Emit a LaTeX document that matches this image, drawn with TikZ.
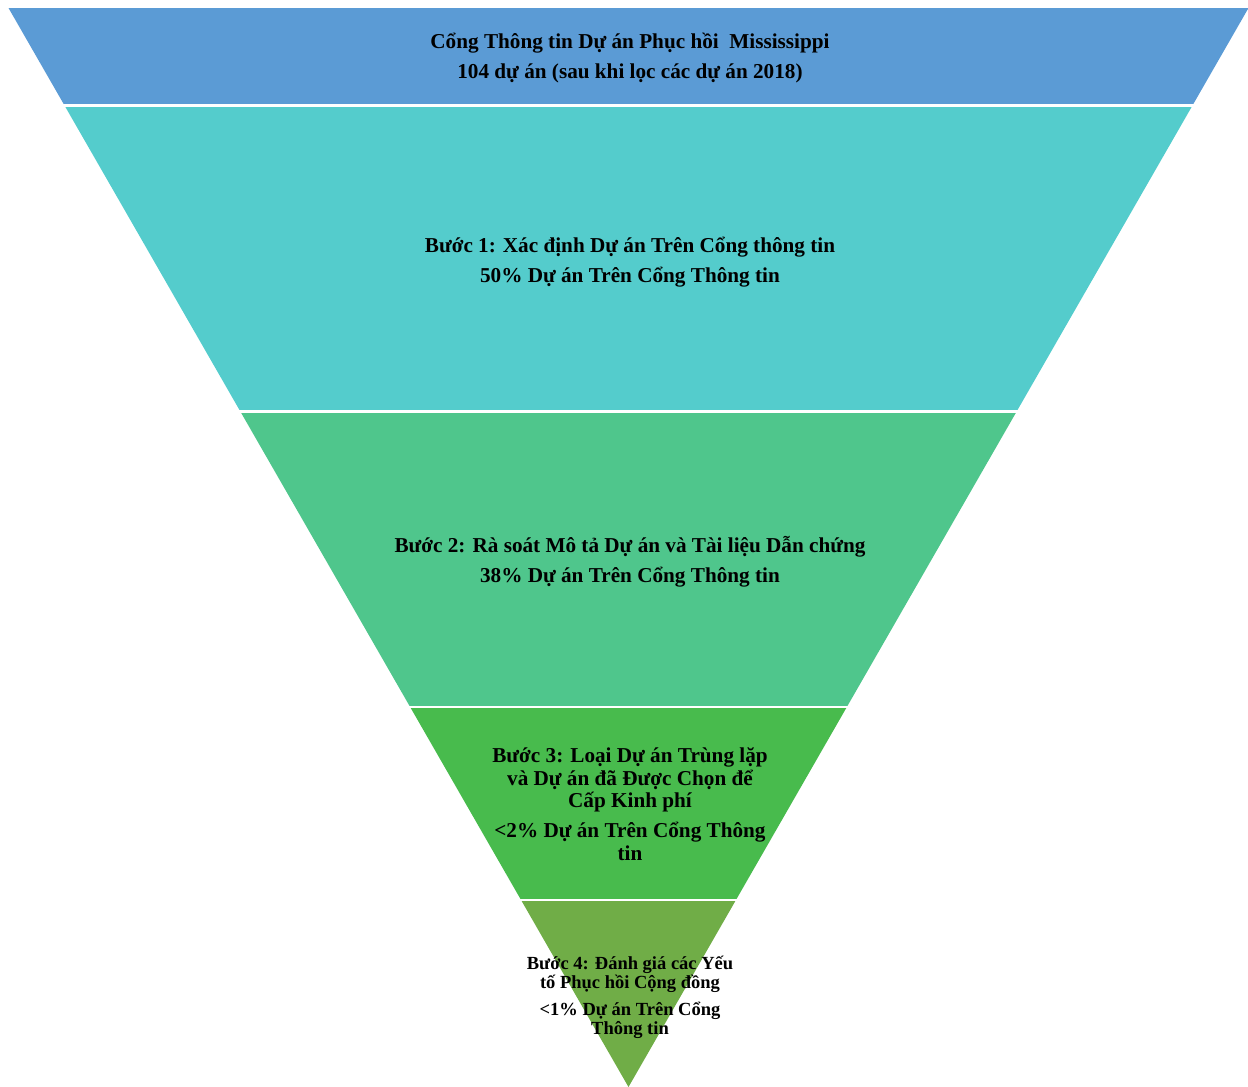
\documentclass[tikz,border=0pt]{standalone}
\usepackage{fontspec}
\setmainfont{Liberation Serif}
\definecolor{cA}{HTML}{5B9BD5}
\definecolor{cB}{HTML}{54CCCC}
\definecolor{cC}{HTML}{4FC68C}
\definecolor{cD}{HTML}{48BB4D}
\definecolor{cE}{HTML}{70AD47}
\begin{document}
\begin{tikzpicture}[x=1pt,y=-1pt,
  lbl/.style={align=center,font=\bfseries\fontsize{21.2}{22.5}\selectfont,text=black,inner sep=0pt},
  lblsmall/.style={align=center,font=\bfseries\fontsize{18.5}{19}\selectfont,text=black,inner sep=0pt},
  gap/.style={white,line width=2.5pt}]
\useasboundingbox (0,0) rectangle (1248,1087);
\def\cx{628.5}
\def\sl{0.574606}
\newcommand{\band}[3]{%
  \fill[#1] ({\cx-\sl*(1087-#2)},#2) -- ({\cx+\sl*(1087-#2)},#2)
    -- ({\cx+\sl*(1087-#3)},#3) -- ({\cx-\sl*(1087-#3)},#3) -- cycle;}
\band{cA}{8}{105.5}
\band{cB}{105.5}{411.5}
\band{cC}{411.5}{707}
\band{cD}{707}{900}
\band{cE}{900}{1087}
\foreach \yy in {105.5,411.5,707,900}
  \draw[gap] ({\cx-\sl*(1087-\yy)-5},\yy) -- ({\cx+\sl*(1087-\yy)+5},\yy);
\node[lbl] (t0) at (630,58) {Cổng Thông tin Dự án Phục hồi\ \ Mississippi\\[7.5pt]104 dự án (sau khi lọc các dự án 2018)};
\node[lbl] (t1) at (630,262) {Bước 1: Xác định Dự án Trên Cổng thông tin\\[7.5pt]50\% Dự án Trên Cổng Thông tin};
\node[lbl] (t2) at (630,561.5) {Bước 2: Rà soát Mô tả Dự án và Tài liệu Dẫn chứng\\[7.5pt]38\% Dự án Trên Cổng Thông tin};
\node[lbl] (t3) at (630,804) {Bước 3: Loại Dự án Trùng lặp\\và Dự án đã Được Chọn để\\Cấp Kinh phí\\[7.5pt]<2\% Dự án Trên Cổng Thông\\tin};
\node[lblsmall] (t4) at (630,997) {Bước 4: Đánh giá các Yếu\\tố Phục hồi Cộng đồng\\[8pt]<1\% Dự án Trên Cổng\\Thông tin};
\end{tikzpicture}
\end{document}
